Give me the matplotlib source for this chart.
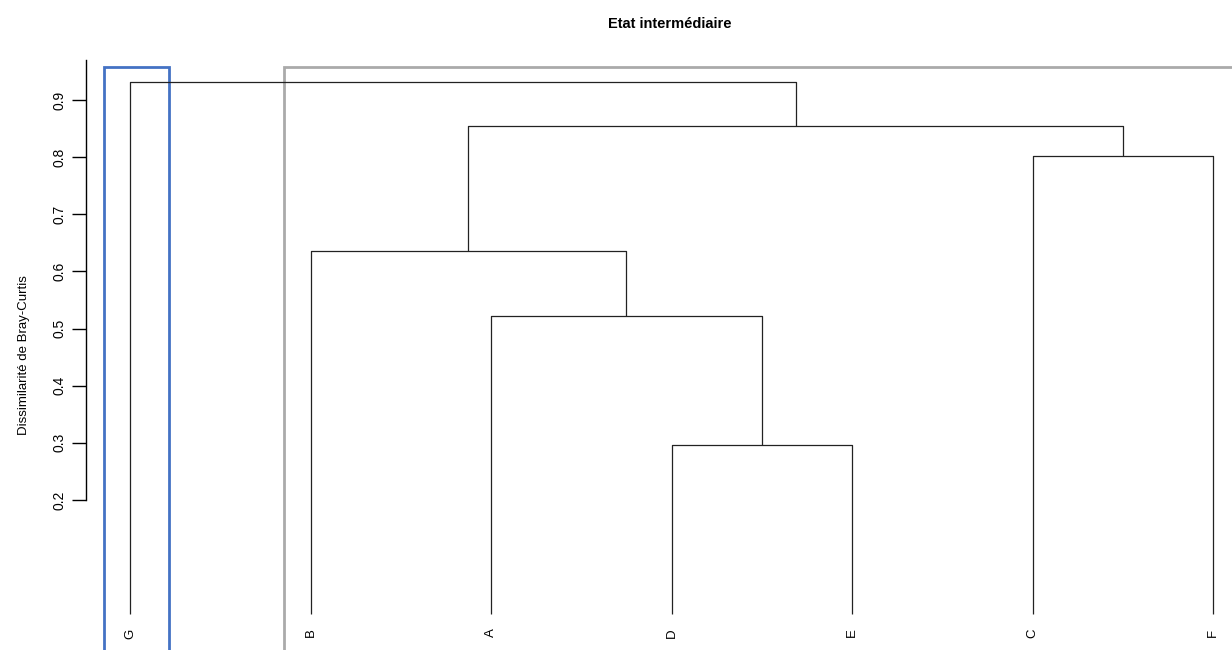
import matplotlib.pyplot as plt
from matplotlib.patches import Rectangle

plt.rcParams['font.family'] = ['Liberation Sans', 'DejaVu Sans']

# leaf order and merges of the tree (Bray-Curtis heights)
leaves = ['G', 'B', 'A', 'D', 'E', 'C', 'F']
merges = [('D', 'E'), ('A', 'DE'), ('B', 'ADE'), ('C', 'F'),
          ('BADE', 'CF'), ('G', 'BADECF')]
heights = [0.296, 0.522, 0.636, 0.802, 0.855, 0.932]
yticks = [0.2, 0.3, 0.4, 0.5, 0.6, 0.7, 0.8, 0.9]

fig = plt.figure(figsize=(12.32, 6.5), dpi=100)
W, H = 1232, 650
ax = fig.add_axes([86 / W, 0, 1 - 86 / W, 1 - 60 / H])

# positions / heights of every node
pos = {name: i for i, name in enumerate(leaves)}
hgt = {name: 0.0 for name in leaves}
line_kw = dict(color='#222222', linewidth=0.9, solid_capstyle='butt')
for (left, right), h in zip(merges, heights):
    xl, xr = pos[left], pos[right]
    ax.plot([xl, xl, xr, xr], [hgt[left], h, h, hgt[right]], **line_kw)
    pos[left + right] = (xl + xr) / 2
    hgt[left + right] = h

# cluster rectangles
rect_top = 0.958
ax.add_patch(Rectangle((-0.144, -0.2), 0.36, rect_top + 0.2, fill=False,
                       edgecolor='#4472C4', linewidth=2, clip_on=False))
ax.add_patch(Rectangle((0.853, -0.2), 6.0, rect_top + 0.2, fill=False,
                       edgecolor='#AAAAAA', linewidth=2, clip_on=False))

# leaf labels
for i, name in enumerate(leaves):
    ax.text(i, -0.025, name, rotation=90, ha='center', va='top', fontsize=9.5)

ax.set_xlim(-44 / 180.5, 1102 / 180.5)
ax.set_ylim(0.9 - 550 / 571.4, 0.97)
for s in ['top', 'right', 'bottom']:
    ax.spines[s].set_visible(False)
ax.spines['left'].set_bounds(0.2, 0.97)
ax.spines['left'].set_linewidth(1.0)
ax.set_xticks([])
ax.set_yticks(yticks)
ax.set_yticklabels([f'{t:.1f}' for t in yticks], rotation=90, va='center',
                   fontsize=10)
ax.tick_params(axis='y', length=10, width=1.0, pad=4)
ax.set_ylabel('Dissimilarité de Bray-Curtis', fontsize=9.5, labelpad=16)

fig.text(670 / W, 1 - 24 / H, 'Etat intermédiaire', ha='center', va='center',
         fontsize=10.5, fontweight='bold')

fig.savefig('out.png', dpi=100)
